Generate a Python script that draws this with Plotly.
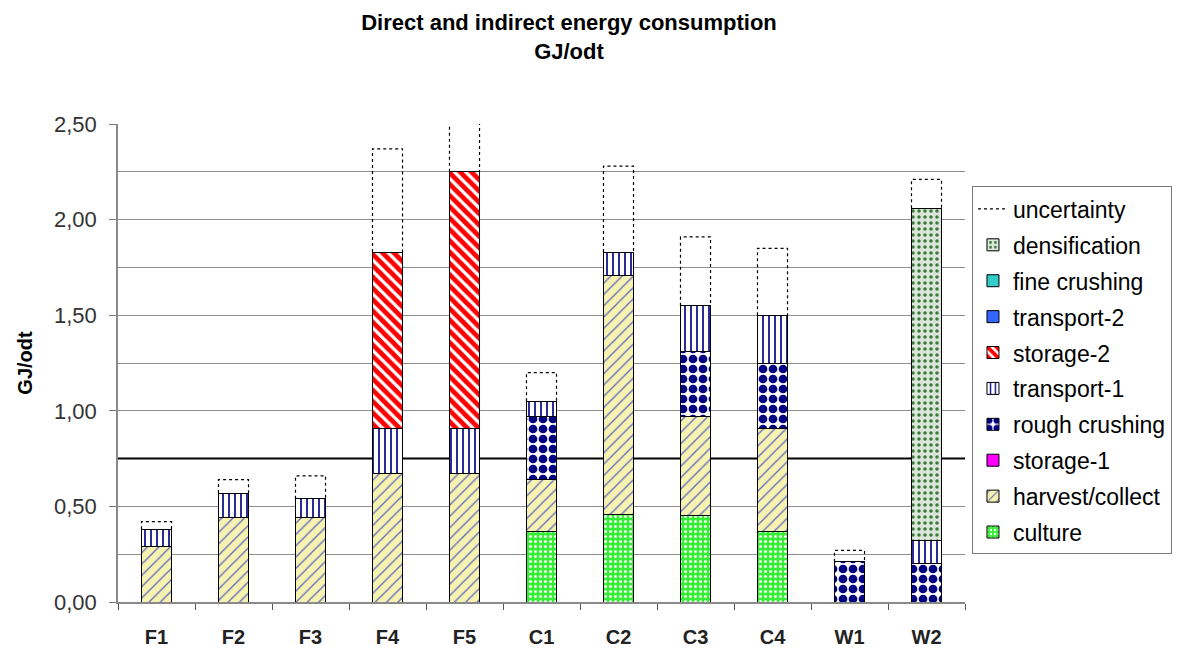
import plotly.graph_objects as go

# Energy consumption per supply chain, GJ per oven-dry tonne
categories = ["F1", "F2", "F3", "F4", "F5", "C1", "C2", "C3", "C4", "W1", "W2"]

culture = [0, 0, 0, 0, 0, 0.37, 0.46, 0.45, 0.37, 0, 0]
harvest_collect = [0.29, 0.44, 0.44, 0.67, 0.67, 0.27, 1.25, 0.52, 0.54, 0, 0]
storage_1 = [0, 0, 0, 0, 0, 0, 0, 0, 0, 0, 0]
rough_crushing = [0, 0, 0, 0, 0, 0.33, 0, 0.34, 0.34, 0.21, 0.20]
transport_1 = [0.09, 0.13, 0.10, 0.24, 0.24, 0.08, 0.12, 0.24, 0.25, 0, 0.12]
storage_2 = [0, 0, 0, 0.92, 1.34, 0, 0, 0, 0, 0, 0]
transport_2 = [0, 0, 0, 0, 0, 0, 0, 0, 0, 0, 0]
fine_crushing = [0, 0, 0, 0, 0, 0, 0, 0, 0, 0, 0]
densification = [0, 0, 0, 0, 0, 0, 0, 0, 0, 0, 1.74]
uncertainty = [0.04, 0.07, 0.12, 0.54, 0.35, 0.15, 0.45, 0.36, 0.35, 0.06, 0.15]

reference_level = 0.75
y_ticks = [0, 0.5, 1.0, 1.5, 2.0, 2.5]
y_minor_grid = [0.25, 1.25, 1.75, 2.25]

FONT = "Arial, Liberation Sans, Helvetica, sans-serif"
BAR_WIDTH = 0.39
x = list(range(len(categories)))

segments = [
    ("culture", culture, dict(bgcolor="#33ee33", fgcolor="#e8ffe8", shape=".", size=5, solidity=0.3)),
    ("harvest/collect", harvest_collect, dict(bgcolor="#f6f2b0", fgcolor="#6066c0", shape="/", size=8, solidity=0.16)),
    ("storage-1", storage_1, dict(bgcolor="#ff00ff", fgcolor="#ff00ff", shape="")),
    ("rough crushing", rough_crushing, dict(bgcolor="#ffffff", fgcolor="#000080", shape=".", size=10, solidity=0.6)),
    ("transport-1", transport_1, dict(bgcolor="#ffffff", fgcolor="#14148c", shape="|", size=6, solidity=0.3)),
    ("storage-2", storage_2, dict(bgcolor="#ffffff", fgcolor="#ff0000", shape="\\", size=8, solidity=0.6)),
    ("transport-2", transport_2, dict(bgcolor="#3366ff", fgcolor="#3366ff", shape="")),
    ("fine crushing", fine_crushing, dict(bgcolor="#33cccc", fgcolor="#33cccc", shape="")),
    ("densification", densification, dict(bgcolor="#dde6da", fgcolor="#3c7a3c", shape=".", size=6, solidity=0.28)),
]

fig = go.Figure()

# Stack bottom-up; legend lists the segments top-down
n_seg = len(segments)
for k, (name, values, pattern) in enumerate(segments):
    fig.add_trace(go.Bar(
        x=x, y=values, name=name, width=BAR_WIDTH,
        legendgroup=name, legendrank=100 + (n_seg - k),
        marker=dict(color=pattern["bgcolor"], pattern=dict(pattern, fgopacity=1),
                    line=dict(color="#000000", width=1)),
    ))

# Dashed open box above each stack for the uncertainty range
totals = [sum(seg[1][i] for seg in segments) for i in x]
ux, uy = [], []
for i in x:
    left, right = i - BAR_WIDTH / 2, i + BAR_WIDTH / 2
    top = totals[i] + uncertainty[i]
    ux += [left, left, right, right, None]
    uy += [totals[i], top, top, totals[i], None]

fig.add_trace(go.Scatter(
    x=ux, y=uy, mode="lines", name="uncertainty", legendgroup="uncertainty", legendrank=100,
    line=dict(color="#000000", width=1.2, dash="3px,3px"),
    hoverinfo="skip",
))

fig.add_shape(type="line", xref="paper", x0=0, x1=1, y0=reference_level, y1=reference_level,
              line=dict(color="#000000", width=2), layer="below")

fig.update_layout(
    width=1184, height=660,
    margin=dict(l=118, r=216, t=124, b=54),
    paper_bgcolor="#ffffff", plot_bgcolor="#ffffff",
    barmode="stack",
    separators=",.",
    font=dict(family=FONT, color="#000000"),
    title=dict(
        text="<b>Direct and indirect energy consumption<br>GJ/odt</b>",
        x=569 / 1184, xref="container", xanchor="center",
        y=1 - 30 / 660, yref="container", yanchor="top",
        font=dict(size=22, family=FONT, color="#000000"),
    ),
    showlegend=True,
    legend=dict(
        traceorder="grouped", tracegroupgap=3,
        x=(975 - 118) / 850, xanchor="left",
        y=(606 - 187) / 482, yanchor="top",
        bordercolor="#7a7a7a", borderwidth=1, bgcolor="#ffffff",
        font=dict(size=23, family=FONT, color="#000000"),
        itemwidth=30,
    ),
    xaxis=dict(
        range=[-0.5, len(categories) - 0.5],
        tickmode="array", tickvals=x, ticktext=[f"<b>{c}</b>" for c in categories],
        ticks="", ticklabelstandoff=16,
        tickfont=dict(size=20, family=FONT, color="#222222"),
        showgrid=False, zeroline=False,
        showline=True, linecolor="#8a8a8a", linewidth=1.5,
        minor=dict(tickmode="array", tickvals=[i - 0.5 for i in range(len(categories) + 1)],
                   ticks="outside", ticklen=6, tickcolor="#555555", showgrid=False),
    ),
    yaxis=dict(
        range=[0, 2.5],
        tickmode="array", tickvals=y_ticks, tickformat=".2f",
        ticks="outside", ticklen=7, tickcolor="#777777",
        tickfont=dict(size=22, family=FONT, color="#333333"),
        ticklabelstandoff=8,
        showgrid=True, gridcolor="#8f8f8f", gridwidth=1,
        minor=dict(tickmode="array", tickvals=y_minor_grid, ticks="",
                   showgrid=True, gridcolor="#8f8f8f", gridwidth=1),
        zeroline=False,
        showline=True, linecolor="#8a8a8a", linewidth=1.5,
        title=dict(text="<b>GJ/odt</b>", font=dict(size=20, family=FONT, color="#000000"), standoff=16),
    ),
)

fig.write_html("out.html")
